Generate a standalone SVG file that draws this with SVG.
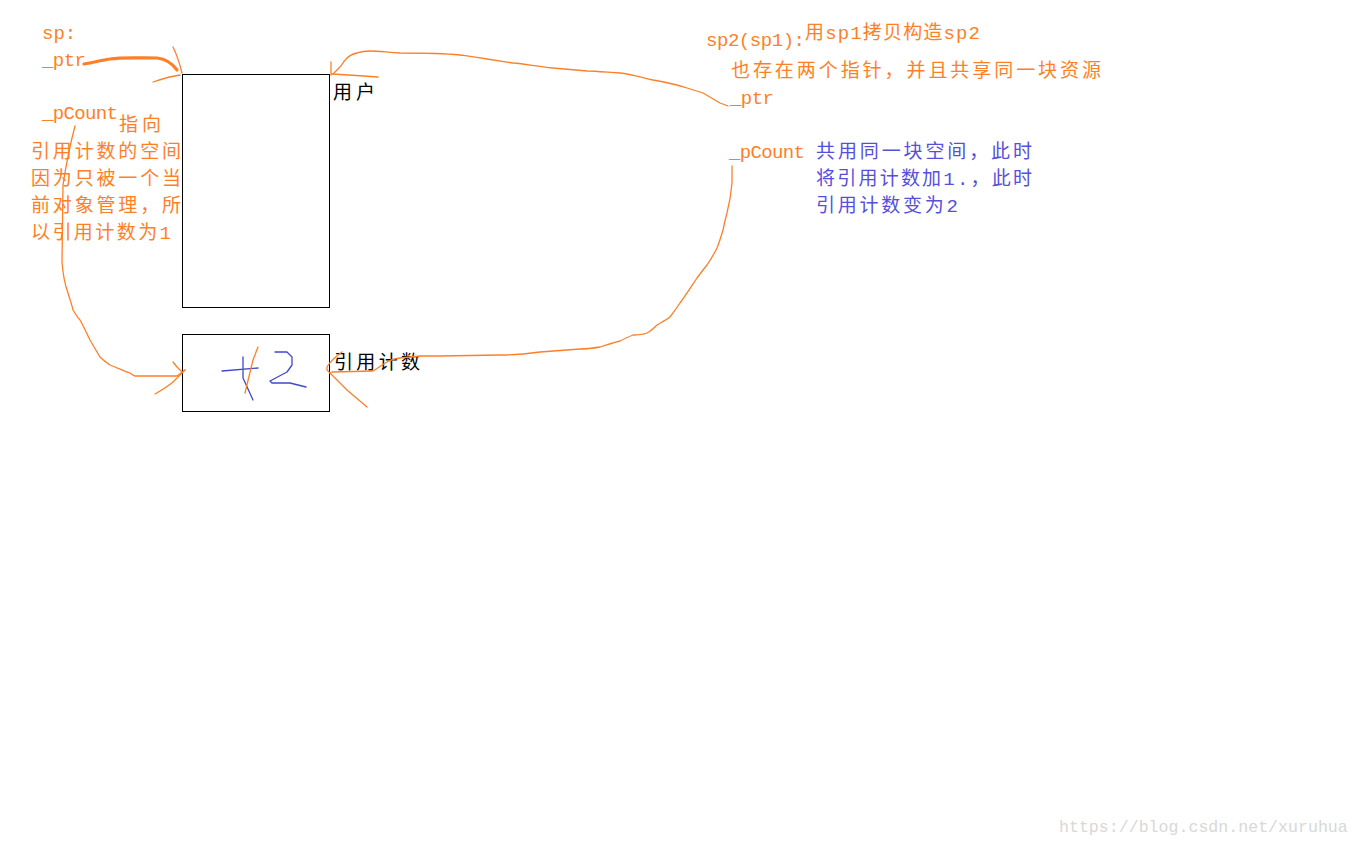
<svg xmlns="http://www.w3.org/2000/svg" width="1360" height="845" viewBox="0 0 1360 845">
<style>
.t{font-family:"Liberation Mono","Noto Sans CJK SC",monospace;font-size:19px}
.o{fill:#ff7f27}
.k{fill:#000}
.b{fill:#5550dc}
.box{fill:none;stroke:#000;stroke-width:1}
.c{fill:none;stroke:#ff7f27;stroke-width:1.3;stroke-linecap:round;stroke-linejoin:round}
.bl{fill:none;stroke:#3f48cc;stroke-width:1.3;stroke-linecap:round;stroke-linejoin:round}
.wm{font-family:"Liberation Mono",monospace;font-size:16.6px;fill:#d8d8d8}
</style>
<rect width="1360" height="845" fill="#fff"/>
<g id="sp1">
<text class="t o" x="42" y="39">sp:</text>
<text class="t o" x="42" y="66" textLength="44" lengthAdjust="spacing">_ptr</text>
<text class="t o" x="42" y="119" textLength="76" lengthAdjust="spacing">_pCount</text>
<text class="t o" x="119" y="131" textLength="42" lengthAdjust="spacing">指向</text>
<text class="t o" x="31" y="158" textLength="150" lengthAdjust="spacing">引用计数的空间</text>
<text class="t o" x="31" y="185" textLength="150" lengthAdjust="spacing">因为只被一个当</text>
<text class="t o" x="31" y="212" textLength="150" lengthAdjust="spacing">前对象管理，所</text>
<text class="t o" x="31" y="239" textLength="140" lengthAdjust="spacing">以引用计数为1</text>
</g>
<g id="resource">
<rect class="box" x="182.5" y="74.5" width="147" height="233"/>
<text class="t k" x="333" y="99" textLength="42" lengthAdjust="spacing">用户</text>
</g>
<g id="refcount">
<rect class="box" x="182.5" y="334.5" width="147" height="77"/>
<text class="t k" x="334" y="369" textLength="86" lengthAdjust="spacing">引用计数</text>
<path class="bl" d="M222,371 L258,368 M243,357 L243,378 L253,400 M275,352 L287,352 L292,357 L292,365 L287,372 L270,381 L272,383 L290,383 L306,387"/>
<path class="c" d="M258,347 L253,360 L245,393"/>
</g>
<g id="sp2">
<text class="t o" x="706" y="46" textLength="99" lengthAdjust="spacing">sp2(sp1):</text>
<text class="t o" x="805" y="39" textLength="175" lengthAdjust="spacing">用sp1拷贝构造sp2</text>
<text class="t o" x="731" y="77" textLength="370" lengthAdjust="spacing">也存在两个指针，并且共享同一块资源</text>
<text class="t o" x="730" y="104" textLength="44" lengthAdjust="spacing">_ptr</text>
<text class="t o" x="729" y="158" textLength="76" lengthAdjust="spacing">_pCount</text>
<text class="t b" x="816" y="158" textLength="216" lengthAdjust="spacing">共用同一块空间，此时</text>
<text class="t b" x="816" y="185" textLength="216" lengthAdjust="spacing">将引用计数加1.，此时</text>
<text class="t b" x="816" y="212" textLength="142" lengthAdjust="spacing">引用计数变为2</text>
</g>
<g id="connectors">
<path fill="none" stroke="#ff7f27" stroke-width="3.2" stroke-linecap="round" d="M84,64 C95,62 103,60 110,59 C122,57 140,58 157,58 C166,59 172,63 177,70"/>
<path class="c" d="M173,47 C177,55 180,65 182,73 M153,82 C162,79 172,76 180,75"/>
<path class="c" d="M728,106 L720,103 L703,93 L687,88 C675,84 665,82 653,80 C640,77 630,74 620,73 C605,72 595,71 587,71 C575,70 565,69 553,68 C535,66 525,64 513,63 C500,61 493,60 487,59 C475,57 467,56 460,55 C450,54 440,53 400,53 C385,52 378,51 370,51 C362,51 360,52 357,53 C352,54 349,56 347,58 C344,61 342,64 340,67 L333,74"/>
<path class="c" d="M331,62 L331,75 M332,74 C350,75 365,76 378,77"/>
<path class="c" d="M75,126 C70,145 66,165 63,185 L62,262 C63,275 65,285 68,293 C70,300 72,305 73,310 C76,315 78,318 80,320 C84,327 87,334 90,340 C94,347 97,352 100,357 C104,361 107,363 110,365 C118,368 124,371 130,373 C133,375 134,376 135,376 L177,376 L185,370"/>
<path class="c" d="M173,362 L177,367 L182,372 M155,394 C162,390 167,387 173,382 C177,378 181,374 185,370"/>
<path class="c" d="M732,166 L732,183 C731,195 729,205 727,213 C725,220 724,225 723,230 C721,237 719,243 717,248 C714,254 711,259 707,265 C703,270 700,274 697,278 C691,287 686,295 680,303 C676,309 673,313 670,317 C666,320 662,322 657,325 C654,328 651,331 647,333 C642,335 637,335 633,335 C628,337 624,339 620,341 C612,343 606,345 600,347 C594,348 587,349 580,349 C565,350 552,351 540,352 C525,354 510,355 500,355 L440,356 L420,356 L400,358 C394,359 390,360 387,362 C382,365 378,368 373,371 L332,372 L330,373"/>
<path class="c" d="M342,352 C335,357 330,362 327,367 L327,370 L332,375 C337,380 342,385 347,390 C354,396 360,401 367,407"/>
</g>
<text class="wm" x="1059" y="832">https://blog.csdn.net/xuruhua</text>
</svg>
